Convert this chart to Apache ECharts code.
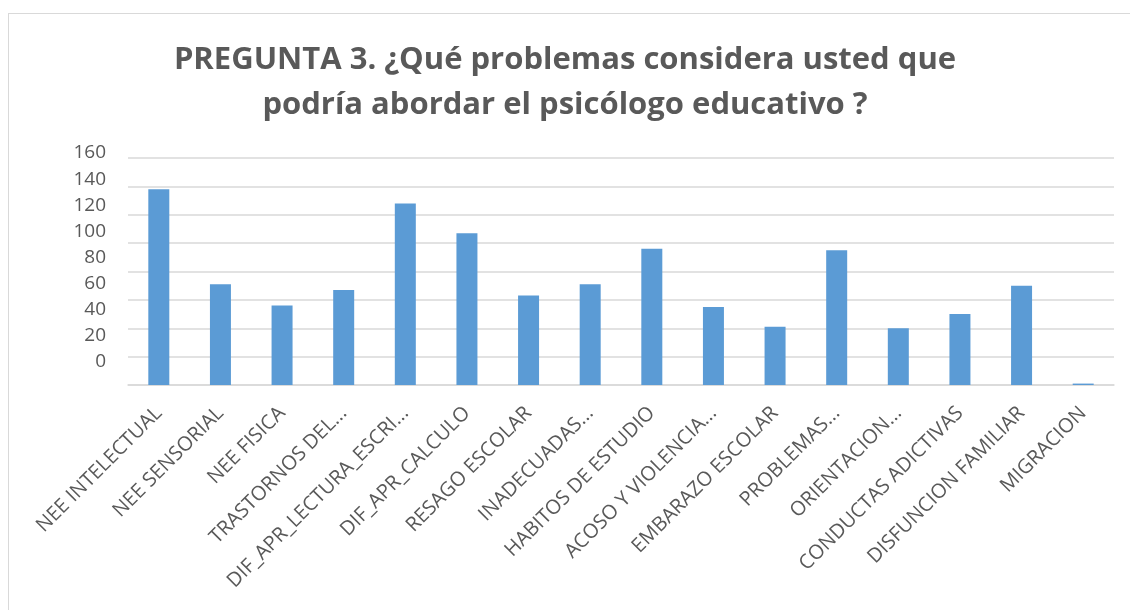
<!DOCTYPE html>
<html>
<head>
<meta charset="utf-8">
<script src="https://cdn.jsdelivr.net/npm/echarts@6/dist/echarts.min.js"></script>
<style>
  html, body { margin: 0; padding: 0; background: #fff; }
  #frame {
    position: absolute; left: 8px; top: 13px; width: 1130px; height: 610px;
    border: 1px solid #d9d9d9; box-sizing: border-box;
  }
  #chart { position: absolute; left: 0; top: 0; width: 1130px; height: 610px; }
</style>
</head>
<body>
<div id="frame"></div>
<div id="chart"></div>
<script>
const categories = [
  'NEE INTELECTUAL', 'NEE SENSORIAL', 'NEE FISICA', 'TRASTORNOS DEL...',
  'DIF_APR_LECTURA_ESCRI...', 'DIF_APR_CALCULO', 'RESAGO ESCOLAR', 'INADECUADAS...',
  'HABITOS DE ESTUDIO', 'ACOSO Y VIOLENCIA...', 'EMBARAZO ESCOLAR', 'PROBLEMAS...',
  'ORIENTACION...', 'CONDUCTAS ADICTIVAS', 'DISFUNCION FAMILIAR', 'MIGRACION'
];
const values = [138, 71, 56, 67, 128, 107, 63, 71, 96, 55, 41, 95, 40, 50, 70, 1];
const yMin = 0;
const yMax = 160;
const yStep = 20;

const grey = '#595959';
const lineGrey = '#d9d9d9';
const font = 'Open Sans';

const chart = echarts.init(document.getElementById('chart'));

chart.setOption({
  textStyle: { fontFamily: font },
  title: {
    text: 'PREGUNTA 3. ¿Qué problemas considera usted que\npodría abordar el psicólogo educativo ?',
    left: 'center',
    top: 33,
    textStyle: {
      fontFamily: font,
      fontSize: 31,
      fontWeight: 'bold',
      color: grey,
      lineHeight: 45
    }
  },
  grid: [
    // bars and gridlines
    { left: 128, right: 16, top: 158, bottom: 225 },
    // y labels only (they sit a little off the gridlines in the original)
    { left: 128, right: 16, top: 153, bottom: 248 }
  ],
  xAxis: [{
    gridIndex: 0,
    type: 'category',
    data: categories,
    axisTick: { show: false },
    axisLine: { lineStyle: { color: lineGrey, width: 1.5 } },
    axisLabel: {
      rotate: 45,
      interval: 0,
      margin: 25,
      color: grey,
      fontSize: 20,
      fontFamily: font
    }
  }, {
    gridIndex: 1,
    type: 'category',
    data: categories,
    show: false
  }],
  yAxis: [{
    gridIndex: 0,
    type: 'value',
    min: yMin,
    max: yMax,
    interval: yStep,
    axisLabel: { show: false },
    axisLine: { show: false },
    axisTick: { show: false },
    splitLine: { lineStyle: { color: lineGrey, width: 1.5 } }
  }, {
    gridIndex: 1,
    type: 'value',
    min: yMin,
    max: yMax,
    interval: yStep,
    axisLine: { show: false },
    axisTick: { show: false },
    splitLine: { show: false },
    axisLabel: {
      margin: 22,
      color: grey,
      fontSize: 19,
      fontFamily: font
    }
  }],
  series: [{
    type: 'bar',
    xAxisIndex: 0,
    yAxisIndex: 0,
    data: values,
    barWidth: 21,
    itemStyle: { color: '#5b9bd5' }
  }]
});
</script>
</body>
</html>
